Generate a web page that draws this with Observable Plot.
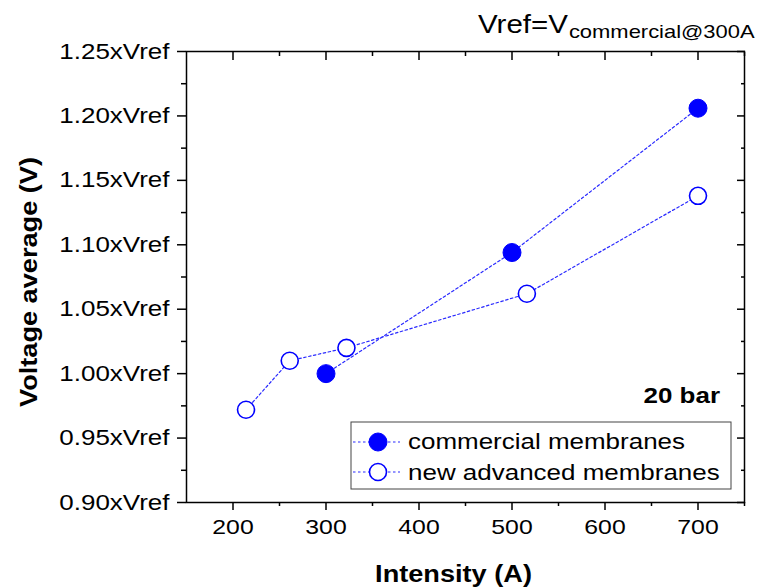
<!DOCTYPE html>
<html><head><meta charset="utf-8">
<script src="https://cdn.jsdelivr.net/npm/d3@7"></script>
<script src="https://cdn.jsdelivr.net/npm/@observablehq/plot@0.6"></script>
<style>
body{margin:0;background:#fff;font-family:"Liberation Sans",Arial,sans-serif;}
#wrap{position:relative;width:757px;height:587px;background:#fff;}
#wrap svg{position:absolute;left:0;top:0;}
</style></head><body><div id="wrap"></div>
<script>
// ---- data ----
const commercialI = [300, 500, 700];
const commercialV = [1.000, 1.094, 1.206];
const advancedI = [214, 261, 322, 516, 700];
const advancedV = [0.972, 1.010, 1.020, 1.062, 1.138];
const seriesNames = ["commercial membranes", "new advanced membranes"];
const xTicks = [200, 300, 400, 500, 600, 700];
const xMinorTicks = [250, 350, 450, 550, 650, 750];
const yTicks = [0.90, 0.95, 1.00, 1.05, 1.10, 1.15, 1.20, 1.25];
const yTickLabels = ["0.90xVref", "0.95xVref", "1.00xVref", "1.05xVref", "1.10xVref", "1.15xVref", "1.20xVref", "1.25xVref"];
const yMinorTicks = [0.925, 0.975, 1.025, 1.075, 1.125, 1.175, 1.225];
const xLabel = "Intensity (A)";
const yLabel = "Voltage average (V)";
const annotation = "20 bar";
const titleMain = "Vref=V";
const titleSub = "commercial@300A";

const FONT = '"Liberation Sans", Arial, sans-serif';
const BLUE = "#0000ff";
const LINE = "#2a2aff";
const STRETCH = 1.18;

const commercial = commercialI.map((x, i) => ({x, y: commercialV[i]}));
const advanced = advancedI.map((x, i) => ({x, y: advancedV[i]}));
const yLabelOf = v => yTickLabels[yTicks.findIndex(t => Math.abs(t - v) < 1e-9)];

const chart = Plot.plot({
  width: 757, height: 587,
  marginLeft: 186, marginRight: 13, marginTop: 51, marginBottom: 85,
  x: {domain: [150, 750]},
  y: {domain: [0.90, 1.25]},
  style: {fontFamily: FONT, background: "white", color: "black", overflow: "visible"},
  marks: [
    // left axis: outward ticks with labels
    Plot.axisY(yTicks, {anchor: "left", tickSize: 9, tickPadding: 8, strokeWidth: 1.5, fontSize: 22, tickFormat: yLabelOf, label: null}),
    Plot.axisY(yMinorTicks, {anchor: "left", tickSize: 5, strokeWidth: 1.5, tickFormat: () => "", label: null}),
    // right axis: inward ticks
    Plot.axisY(yTicks, {anchor: "right", tickSize: -8, strokeWidth: 1.5, tickFormat: () => "", label: null}),
    Plot.axisY(yMinorTicks, {anchor: "right", tickSize: -4, strokeWidth: 1.5, tickFormat: () => "", label: null}),
    // bottom axis: outward ticks with labels
    Plot.axisX(xTicks, {anchor: "bottom", tickSize: 8, tickPadding: 9, strokeWidth: 1.5, fontSize: 21, tickFormat: d => String(d), label: null}),
    Plot.axisX(xMinorTicks, {anchor: "bottom", tickSize: 4, strokeWidth: 1.5, tickFormat: () => "", label: null}),
    // top axis: inward ticks
    Plot.axisX(xTicks, {anchor: "top", tickSize: -8, strokeWidth: 1.5, tickFormat: () => "", label: null}),
    Plot.axisX(xMinorTicks, {anchor: "top", tickSize: -4, strokeWidth: 1.5, tickFormat: () => "", label: null}),
    Plot.frame({stroke: "black", strokeWidth: 1.5}),
    // axis titles
    Plot.text([xLabel], {frameAnchor: "bottom", textAnchor: "middle", lineAnchor: "bottom", dx: -12, dy: 79, fontSize: 23, fontWeight: "bold", fill: "black"}),
    Plot.text([yLabel], {frameAnchor: "left", textAnchor: "middle", lineAnchor: "middle", rotate: -90, dx: -157, dy: 5, fontSize: 23, fontWeight: "bold", fill: "black"}),
    // series
    Plot.line(commercial, {x: "x", y: "y", stroke: LINE, strokeWidth: 1.2, strokeDasharray: "2.5,2.5"}),
    Plot.line(advanced, {x: "x", y: "y", stroke: LINE, strokeWidth: 1.2, strokeDasharray: "2.5,2.5"}),
    Plot.dot(commercial, {x: "x", y: "y", r: 9, fill: BLUE, stroke: BLUE, strokeWidth: 1}),
    Plot.dot(advanced, {x: "x", y: "y", r: 8.5, fill: "white", stroke: BLUE, strokeWidth: 1.6})
  ]
});

const wrap = document.getElementById("wrap");
wrap.appendChild(chart);

// overlay: title, annotation, legend
const ov = d3.select(wrap).append("svg")
  .attr("width", 757).attr("height", 587)
  .style("pointer-events", "none")
  .style("font-family", FONT);

// title with subscript
const t1 = ov.append("text").attr("x", 478).attr("y", 33).attr("font-size", 25).attr("fill", "black").text(titleMain);
const t2 = ov.append("text").attr("y", 38).attr("font-size", 18.6).attr("fill", "black").text(titleSub);

// annotation
ov.append("text").attr("x", 720).attr("y", 403).attr("text-anchor", "end")
  .attr("font-size", 22).attr("font-weight", "bold").attr("fill", "black").text(annotation);

// legend
const lg = ov.append("g");
lg.append("rect").attr("x", 351).attr("y", 422).attr("width", 380).attr("height", 67)
  .attr("fill", "white").attr("stroke", "#444").attr("stroke-width", 1);
const rows = [
  {name: seriesNames[0], cy: 442, fill: BLUE, r: 9, sw: 1, base: 449},
  {name: seriesNames[1], cy: 472, fill: "white", r: 8.5, sw: 1.6, base: 480}
];
rows.forEach(d => {
  lg.append("line").attr("x1", 353).attr("x2", 400).attr("y1", d.cy).attr("y2", d.cy)
    .attr("stroke", LINE).attr("stroke-width", 1.2).attr("stroke-dasharray", "2.5,2.5");
  lg.append("circle").attr("cx", 378).attr("cy", d.cy).attr("r", d.r)
    .attr("fill", d.fill).attr("stroke", BLUE).attr("stroke-width", d.sw);
  lg.append("text").attr("x", 408).attr("y", d.base).attr("font-size", 22).attr("fill", "black").text(d.name);
});

// widen glyphs like the reference's font
function stretch(root, k) {
  root.querySelectorAll("text").forEach(t => {
    const w = t.getComputedTextLength();
    if (w > 0) {
      t.setAttribute("textLength", (w * k).toFixed(2));
      t.setAttribute("lengthAdjust", "spacingAndGlyphs");
    }
  });
}
stretch(chart, STRETCH);
stretch(ov.node(), STRETCH);
t2.attr("x", 478 + t1.node().getComputedTextLength() + 1);
</script></body></html>
